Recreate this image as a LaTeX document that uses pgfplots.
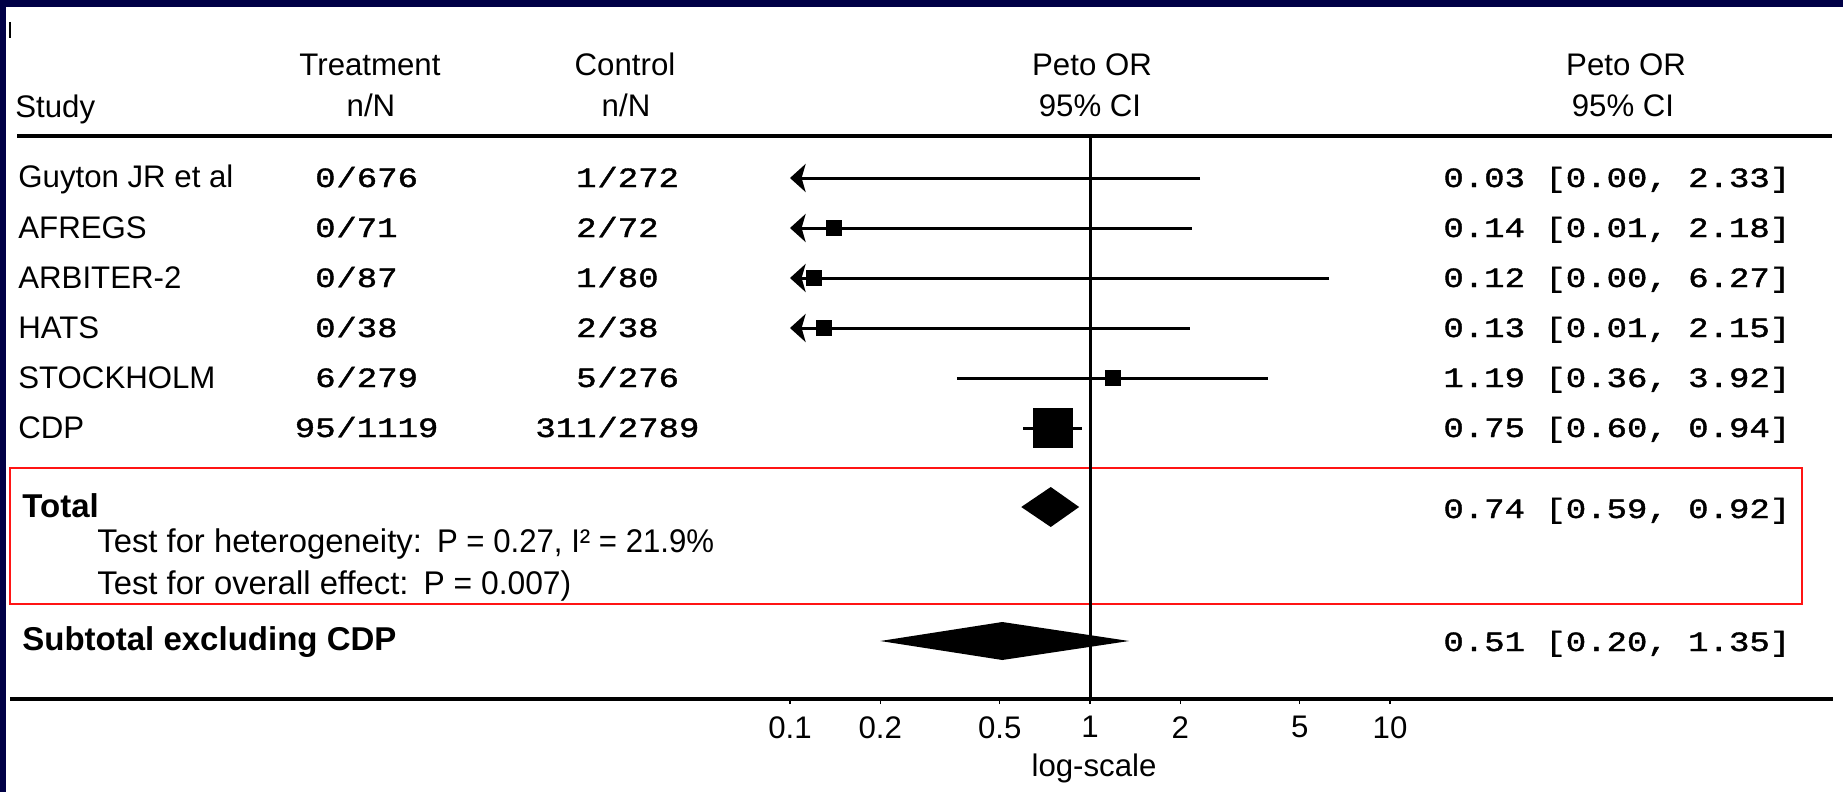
\documentclass[border=0pt]{standalone}
\usepackage{fontspec}
\setmainfont{Liberation Sans}
\newfontfamily\monof[FakeBold=1.2]{Liberation Mono}
\usepackage{pgfplots}
\pgfplotsset{compat=1.18}
\usetikzlibrary{arrows.meta}
\definecolor{navy}{RGB}{0,0,70}
\definecolor{boxred}{RGB}{255,20,20}
\newcommand{\rs}{\fontsize{15.6}{18}\selectfont}
\newcommand{\ts}{\fontsize{16.4}{19}\selectfont}
\newcommand{\bs}{\fontsize{16.5}{19}\selectfont\bfseries}
\newcommand{\ms}[1]{\scalebox{1}[0.82]{\fontsize{17}{19}\selectfont\monof #1}}
\newcommand{\nn}[4]{%
  \node[anchor=base east,inner sep=0pt] at (#1,#2) {\ms{#3}};
  \node[anchor=base west,inner sep=0pt] at (#1,#2) {\ms{/#4}};}
\begin{document}
\begin{tikzpicture}[x=0.5pt,y=-0.5pt]
\fill[white] (0,0) rectangle (1843,792);
\fill[navy] (0,0) rectangle (1843,7);
\fill[navy] (0,0) rectangle (6,792);
\draw[line width=1pt] (9.5,22) -- (9.5,38);
\draw[line width=1.75pt] (17,136) -- (1832,136);
\draw[line width=1.75pt] (10,699) -- (1833,699);
\draw[boxred, line width=1pt] (10,468) rectangle (1802,604);
% headers
\node[anchor=base west,inner sep=0pt] at (15,118) {\rs Study};
\node[anchor=base,inner sep=0pt] at (370,76) {\rs Treatment};
\node[anchor=base,inner sep=0pt] at (371,117) {\rs n/N};
\node[anchor=base,inner sep=0pt] at (625,76) {\rs Control};
\node[anchor=base,inner sep=0pt] at (626,117) {\rs n/N};
\node[anchor=base,inner sep=0pt] at (1092,76) {\rs Peto OR};
\node[anchor=base,inner sep=0pt] at (1090,117) {\rs 95\% CI};
\node[anchor=base,inner sep=0pt] at (1626,76) {\rs Peto OR};
\node[anchor=base,inner sep=0pt] at (1623,117) {\rs 95\% CI};
% study names
\node[anchor=base west,inner sep=0pt] at (18,188) {\rs Guyton JR et al};
\node[anchor=base west,inner sep=0pt] at (18,238) {\rs AFREGS};
\node[anchor=base west,inner sep=0pt] at (18,288) {\rs ARBITER-2};
\node[anchor=base west,inner sep=0pt] at (18,338) {\rs HATS};
\node[anchor=base west,inner sep=0pt] at (18,388) {\rs STOCKHOLM};
\node[anchor=base west,inner sep=0pt] at (18,438) {\rs CDP};
% treatment / control
\nn{336}{187}{0}{676}
\nn{336}{237}{0}{71}
\nn{336}{287}{0}{87}
\nn{336}{337}{0}{38}
\nn{336}{387}{6}{279}
\nn{336}{437}{95}{1119}
\nn{597}{187}{1}{272}
\nn{597}{237}{2}{72}
\nn{597}{287}{1}{80}
\nn{597}{337}{2}{38}
\nn{597}{387}{5}{276}
\nn{597}{437}{311}{2789}
% right column
\node[anchor=base west,inner sep=0pt] at (1443,187) {\ms{0.03 [0.00, 2.33]}};
\node[anchor=base west,inner sep=0pt] at (1443,237) {\ms{0.14 [0.01, 2.18]}};
\node[anchor=base west,inner sep=0pt] at (1443,287) {\ms{0.12 [0.00, 6.27]}};
\node[anchor=base west,inner sep=0pt] at (1443,337) {\ms{0.13 [0.01, 2.15]}};
\node[anchor=base west,inner sep=0pt] at (1443,387) {\ms{1.19 [0.36, 3.92]}};
\node[anchor=base west,inner sep=0pt] at (1443,437) {\ms{0.75 [0.60, 0.94]}};
\node[anchor=base west,inner sep=0pt] at (1443,518) {\ms{0.74 [0.59, 0.92]}};
\node[anchor=base west,inner sep=0pt] at (1443,651) {\ms{0.51 [0.20, 1.35]}};
% totals
\node[anchor=base west,inner sep=0pt] at (22,517) {\bs Total};
\node[anchor=base west,inner sep=0pt] at (97,552) {\ts Test for heterogeneity:\hspace{0.46em}\scalebox{0.95}[1]{P = 0.27, I² = 21.9\%}};
\node[anchor=base west,inner sep=0pt] at (97,594) {\ts Test for overall effect:\hspace{0.46em}\scalebox{0.97}[1]{P = 0.007)}};
\node[anchor=base west,inner sep=0pt] at (22,650) {\bs Subtotal excluding CDP};
\begin{axis}[
  at={(395pt,-349.5pt)}, anchor=south west,
  scale only axis, width=300pt, height=281.5pt,
  xmode=log, xmin=0.1, xmax=10, ymin=-699, ymax=-136,
  clip=false, hide y axis, axis line style={draw=none},
  xtick={0.1,0.2,0.5,1,2,5,10}, xticklabels={0.1,0.2,0.5,1,2,5,10},
  xminorticks=false, xtick pos=left, tick align=outside,
  major tick length=2.5pt, tick style={black,line width=0.8pt},
  xticklabel style={inner sep=0pt, anchor=north, font=\rs},
  xticklabel shift=6pt,
  xlabel={log-scale},
  xlabel style={at={(axis description cs:0.5,0)}, anchor=base, yshift=-38.5pt, xshift=2pt, font=\rs, inner sep=0pt},
]
\addplot[black, line width=1.5pt] coordinates {(1,-136) (1,-699)};
\addplot[black, line width=1.5pt, -{Stealth[length=7.8pt, width=14pt, inset=2pt]}] coordinates {(2.33,-178) (0.1,-178)};
\addplot[black, line width=1.5pt, -{Stealth[length=7.8pt, width=14pt, inset=2pt]}] coordinates {(2.18,-228) (0.1,-228)};
\addplot[black, line width=1.5pt, -{Stealth[length=7.8pt, width=14pt, inset=2pt]}] coordinates {(6.27,-278) (0.1,-278)};
\addplot[black, line width=1.5pt, -{Stealth[length=7.8pt, width=14pt, inset=2pt]}] coordinates {(2.15,-328) (0.1,-328)};
\addplot[black, line width=1.5pt] coordinates {(0.36,-378) (3.92,-378)};
\addplot[black, line width=1.5pt] coordinates {(0.60,-428) (0.94,-428)};
\addplot[only marks, mark=square*, mark size=3.75pt, mark options={fill=black, draw=none}] coordinates {(0.14,-228) (0.12,-278) (0.13,-328) (1.19,-378)};
\addplot[only marks, mark=square*, mark size=9.75pt, mark options={fill=black, draw=none}] coordinates {(0.75,-428)};
\addplot[fill=black, draw=none] coordinates {(0.59,-507) (0.74,-487) (0.92,-507) (0.74,-527)} -- cycle;
\addplot[fill=black, draw=none] coordinates {(0.20,-641) (0.51,-622) (1.35,-641) (0.51,-660)} -- cycle;
\end{axis}
\pgfresetboundingbox
\path[use as bounding box] (0,0) rectangle (1843,792);
\end{tikzpicture}
\end{document}
